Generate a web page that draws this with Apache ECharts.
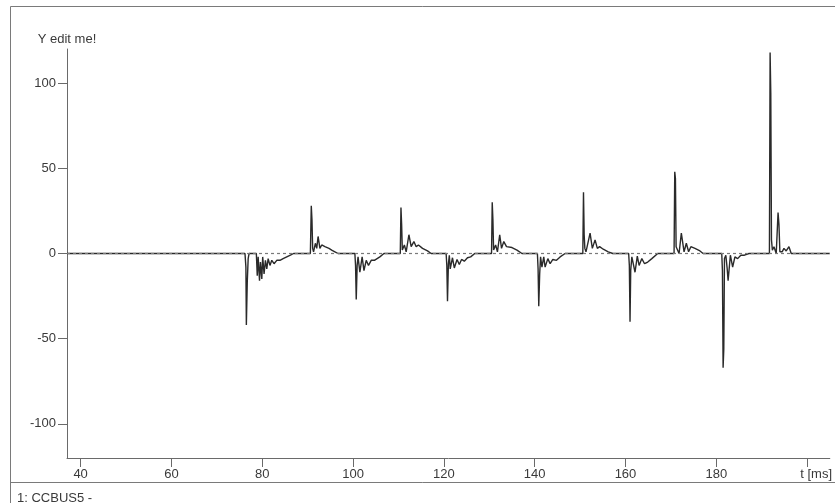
<!DOCTYPE html>
<html>
<head>
<meta charset="utf-8">
<script src="https://cdn.jsdelivr.net/npm/echarts@6/dist/echarts.min.js"></script>
<style>
  html, body { margin: 0; padding: 0; background: #fff; }
  #main { width: 835px; height: 503px; }
</style>
</head>
<body>
<div id="main"></div>
<script>
const tMs = [
  37,
  76.2, 76.4, 76.5, 76.7, 76.9, 77.1, 78.7, 78.9, 79.1, 79.4, 79.6, 79.9, 80.1, 80.4, 80.7, 81.0, 81.3, 81.7, 82.1, 82.6, 83.2, 83.9, 84.6, 85.4, 86.2, 86.9,
  90.6, 90.8, 90.95, 91.1, 91.3, 91.7, 92.0, 92.3, 92.7, 93.1, 93.4, 93.8, 94.2, 94.7, 95.3, 96.0, 96.7,
  100.4, 100.55, 100.7, 100.9, 101.1, 101.5, 102.0, 102.4, 102.9, 103.4, 104.0, 104.7, 105.3, 105.9, 106.8,
  110.4, 110.55, 110.7, 110.85, 111.3, 111.7, 112.3, 112.8, 113.4, 113.9, 114.4, 115.3, 116.4, 117.2,
  120.5, 120.65, 120.8, 121.0, 121.2, 121.4, 121.9, 122.3, 122.9, 123.4, 123.9, 124.5, 125.2, 125.9, 126.8,
  130.5, 130.65, 130.8, 130.95, 131.4, 131.8, 132.3, 132.7, 133.2, 133.8, 134.1, 135.0, 136.1, 137.2,
  140.6, 140.75, 140.9, 141.1, 141.3, 141.6, 142.0, 142.3, 142.9, 143.4, 144.0, 144.8, 145.6, 146.7,
  150.6, 150.75, 150.9, 151.05, 151.3, 152.2, 152.7, 153.3, 153.8, 154.3, 155.1, 156.2, 157.2,
  160.7, 160.85, 161.0, 161.15, 161.4, 161.7, 162.1, 162.6, 163.0, 163.6, 164.2, 164.9, 165.8, 167.1,
  170.7, 170.85, 171.0, 171.15, 171.5, 171.8, 172.3, 172.9, 173.4, 173.9, 174.4, 175.3, 176.4, 177.1,
  181.2, 181.35, 181.5, 181.65, 181.8, 182.1, 182.4, 182.6, 182.8, 183.1, 183.6, 184.1, 184.7, 185.4, 186.2, 187.2,
  191.7, 191.85, 192.0, 192.15, 192.35, 192.7, 193.2, 193.6, 193.8, 194.0, 194.5, 194.9, 195.4, 196.0, 196.5,
  205
]
const yVal = [
  0,
  0, -8, -42, -17, -3, 0, 0, -13, -2, -16, -5, -15, -2, -12, -4, -9, -3, -7, -4, -6, -4, -4, -3, -2, -1, 0,
  0, 28, 20, 3, 1, 6, 3, 10, 3, 5, 6, 4, 5, 3, 2, 1, 0,
  0, -7, -27, -7, -2, -11, -2, -10, -4, -7, -4, -4, -3, -2, 0,
  0, 27, 17, 2, 5, 1, 11, 4, 7, 4, 5, 3, 1.5, 0,
  0, -7, -28, -6, -1, -9, -2.5, -8.5, -3.5, -6.5, -3.5, -4.5, -2.5, -2, 0,
  0, 30, 20, 2, 5, 1, 11, 3, 7, 4, 5, 3.5, 2, 0,
  0, -9, -31, -12, -2, -8, -2, -8, -3, -6, -3.5, -4, -2, 0,
  0, 36, 11, 3, 1, 12, 3, 8, 3, 4, 2.5, 1, 0,
  0, -7, -40, -10, -2, -1, -11, -1.5, -7, -3, -6, -5, -3, 0,
  0, 48, 44, 4, 5, 0, 12, 1, 6, 1, 4, 3, 1.5, 0,
  0, -10, -67, -56, -3, -1, -9, -16, -10, -1, -8, -2, -3, -1, -1, 0,
  0, 118, 94, 8, 2, 4, 0, 24, 17, 1, 1, 3, 1.5, 4, 0,
  0
]
const xTicks = [40, 60, 80, 100, 120, 140, 160, 180, 200]
const yTicks = [-100, -50, 0, 50, 100]

const fontFamily = '"Liberation Sans", Arial, sans-serif'
const axisColor = '#6a6a6a'
const textColor = '#3a3a3a'

const chart = echarts.init(document.getElementById('main'))

const option = {
  animation: false,
  backgroundColor: '#fff',
  title: {
    text: '1: CCBUS5 -',
    left: 12,
    top: 487,
    textStyle: { fontFamily, fontSize: 13, fontWeight: 'normal', color: textColor }
  },
  graphic: [
    { type: 'line', shape: { x1: 10.5, y1: 6.5, x2: 835, y2: 6.5 }, style: { stroke: '#7a7a7a', lineWidth: 1 } },
    { type: 'line', shape: { x1: 10.5, y1: 6.5, x2: 10.5, y2: 503 }, style: { stroke: '#7a7a7a', lineWidth: 1 } },
    { type: 'line', shape: { x1: 10.5, y1: 482.5, x2: 835, y2: 482.5 }, style: { stroke: '#7a7a7a', lineWidth: 1 } }
  ],
  grid: { left: 67, right: 0, top: 49, bottom: 45 },
  xAxis: {
    type: 'value',
    min: 37,
    max: 205,
    axisLine: { onZero: false, lineStyle: { color: axisColor, width: 1 } },
    axisTick: { customValues: xTicks, length: 9, lineStyle: { color: axisColor } },
    axisLabel: {
      customValues: xTicks,
      margin: 10,
      fontFamily, fontSize: 13, color: textColor,
      formatter: v => (v === 200 ? '{u|t [ms]}' : String(v)),
      rich: { u: { fontFamily, fontSize: 13, color: textColor, padding: [0, 0, 0, 18] } }
    },
    splitLine: { show: false }
  },
  yAxis: {
    type: 'value',
    min: -120,
    max: 120,
    name: 'Y edit me!',
    nameGap: 3,
    nameTextStyle: { fontFamily, fontSize: 13, color: textColor },
    axisLine: { show: true, lineStyle: { color: axisColor, width: 1 } },
    axisTick: { show: true, customValues: yTicks, length: 9, lineStyle: { color: axisColor } },
    axisLabel: { customValues: yTicks, margin: 11, fontFamily, fontSize: 13, color: textColor },
    splitLine: { show: false }
  },
  series: [
    {
      name: 'zero',
      type: 'line',
      data: [],
      z: 1,
      markLine: {
        silent: true,
        symbol: 'none',
        label: { show: false },
        lineStyle: { color: '#7a7a7a', type: [3, 3], width: 1.2 },
        data: [{ yAxis: 0 }]
      }
    },
    {
      name: 'CCBUS5',
      type: 'line',
      z: 3,
      showSymbol: false,
      smooth: false,
      data: tMs.map((t, i) => [t, yVal[i]]),
      lineStyle: { color: '#2a2a2a', width: 1.4 }
    }
  ]
}

chart.setOption(option)
</script>
</body>
</html>
